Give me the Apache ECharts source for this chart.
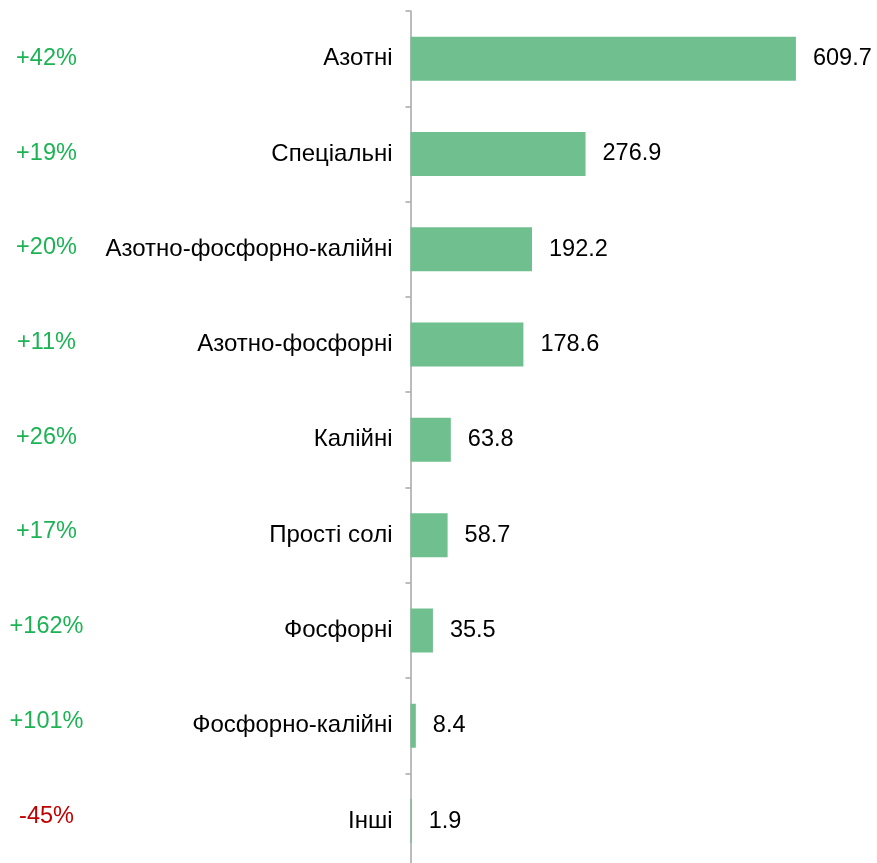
<!DOCTYPE html>
<html>
<head>
<meta charset="utf-8">
<style>
  html, body { margin: 0; padding: 0; background: #ffffff; overflow: hidden; }
  #chart { width: 877px; height: 870px; }
</style>
<script src="https://cdn.jsdelivr.net/npm/echarts@6/dist/echarts.min.js"></script>
</head>
<body>
<div id="chart"></div>
<script>
// Fertiliser groups, volumes and year-on-year change
const categories = ['Азотні', 'Спеціальні', 'Азотно-фосфорно-калійні', 'Азотно-фосфорні', 'Калійні', 'Прості солі', 'Фосфорні', 'Фосфорно-калійні', 'Інші'];
const volumes = [609.7, 276.9, 192.2, 178.6, 63.8, 58.7, 35.5, 8.4, 1.9];
const changes = ['+42%', '+19%', '+20%', '+11%', '+26%', '+17%', '+162%', '+101%', '-45%'];

const FONT = 'Liberation Sans, Arial, sans-serif';
const chart = echarts.init(document.getElementById('chart'), null, { renderer: 'canvas' });

chart.setOption({
  animation: false,
  grid: [
    // bars with their category axis
    { left: 410.5, top: 11, height: 857.7, right: 24 },
    // column of year-on-year changes
    { left: 410.5, top: 11, height: 852.5, right: 24 }
  ],
  xAxis: [
    { gridIndex: 0, type: 'value', min: 0, max: 700, show: false },
    { gridIndex: 1, type: 'value', min: 0, max: 700, show: false }
  ],
  yAxis: [
    {
      gridIndex: 0, type: 'category', data: categories, inverse: true, position: 'left',
      axisLine: { show: true, lineStyle: { color: '#a6a6a6', width: 1.5 } },
      axisTick: { show: true, length: 5, lineStyle: { color: '#a6a6a6', width: 1.5 } },
      axisLabel: { color: '#000000', fontSize: 24, fontFamily: FONT, margin: 18, padding: [2, 0, 0, 0] }
    },
    {
      gridIndex: 1, type: 'category', data: categories, inverse: true, position: 'left',
      axisLine: { show: false }, axisTick: { show: false },
      axisLabel: {
        margin: 364, align: 'center', fontSize: 23.5, fontFamily: FONT,
        formatter: function (v, i) {
          const c = changes[i];
          return c.charAt(0) === '-' ? '{neg|' + c + '}' : '{pos|' + c + '}';
        },
        rich: {
          pos: { color: '#1db355', fontSize: 23.5, fontFamily: FONT },
          neg: { color: '#c00000', fontSize: 23.5, fontFamily: FONT }
        }
      }
    }
  ],
  series: [{
    type: 'bar', data: volumes, xAxisIndex: 0, yAxisIndex: 0, barWidth: 44,
    itemStyle: { color: '#70bf8f' },
    label: {
      show: true, position: 'right', distance: 17, padding: [3, 0, 0, 0],
      color: '#000000', fontSize: 23.5, fontFamily: FONT,
      formatter: function (p) { return p.value.toFixed(1); }
    }
  }]
});
</script>
</body>
</html>
